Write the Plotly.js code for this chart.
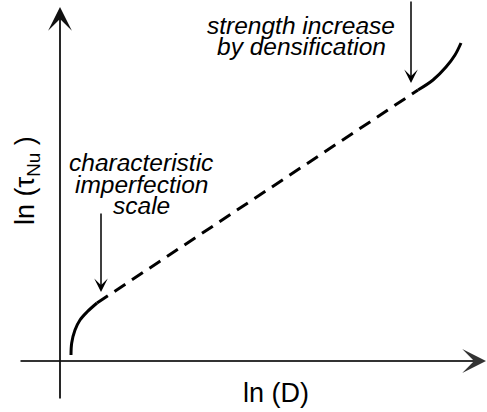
<!DOCTYPE html>
<html>
<head>
<meta charset="utf-8">
<script src="https://cdn.plot.ly/plotly-3.0.1.min.js"></script>
<style>html,body{margin:0;padding:0;background:#fff;}#chart{width:487px;height:412px;}</style>
</head>
<body>
<div id="chart"></div>
<script>
// Schematic values in arbitrary ln units (origin at the axis crossing)
var lowX = [1.1, 1.17, 1.5, 2.0, 2.7, 3.7];
var lowY = [0.6, 1.8, 3.1, 4.1, 4.9, 5.8];
var midX = [3.7, 35.8];
var midY = [5.8, 27.1];
var highX = [35.8, 37.3, 38.6, 39.5, 40.1];
var highY = [27.1, 28.1, 29.4, 30.6, 31.8];

var xAxisSpan = [-4.1, 42.6];
var yAxisSpan = [-3.9, 35.4];

var upperLabel = ["strength increase", "by densification"];
var lowerLabel = ["characteristic", "imperfection", "scale"];
var xLabel = "ln (D)";
var yLabel = "ln (τ<sub>Nu</sub> )";

var FONT = "Liberation Sans, Arial, Helvetica, sans-serif";

var traces = [
  {x: lowX, y: lowY, mode: "lines", line: {color: "#000", width: 3, shape: "spline"}, hoverinfo: "skip"},
  {x: midX, y: midY, mode: "lines", line: {color: "#000", width: 3, dash: "13px,8px"}, hoverinfo: "skip"},
  {x: highX, y: highY, mode: "lines", line: {color: "#000", width: 3, shape: "spline"}, hoverinfo: "skip"}
];

var ann = [];
// axes with arrows
ann.push({x: xAxisSpan[1], y: 0, ax: xAxisSpan[0], ay: 0, axref: "x", ayref: "y", xref: "x", yref: "y",
  text: "", showarrow: true, arrowhead: 3, arrowsize: 2.2, arrowwidth: 1.8, arrowcolor: "#333", standoff: 0});
ann.push({x: 0, y: yAxisSpan[1], ax: 0, ay: yAxisSpan[0], axref: "x", ayref: "y", xref: "x", yref: "y",
  text: "", showarrow: true, arrowhead: 3, arrowsize: 2.2, arrowwidth: 1.8, arrowcolor: "#111", standoff: 0});
// pointer arrows
ann.push({x: 4.1, y: 6.9, ax: 4.1, ay: 14.9, axref: "x", ayref: "y", xref: "x", yref: "y",
  text: "", showarrow: true, arrowhead: 3, arrowsize: 1.5, arrowwidth: 1.5, arrowcolor: "#000", standoff: 0});
ann.push({x: 35.1, y: 27.8, ax: 35.1, ay: 36.1, axref: "x", ayref: "y", xref: "x", yref: "y",
  text: "", showarrow: true, arrowhead: 3, arrowsize: 1.5, arrowwidth: 1.5, arrowcolor: "#000", standoff: 0});

var upY = [33.6, 31.5];
upperLabel.forEach(function (t, i) {
  ann.push({x: 24.1, y: upY[i], xref: "x", yref: "y", text: "<i>" + t + "</i>", showarrow: false,
    xanchor: "center", yanchor: "middle", font: {family: FONT, size: 24.5, color: "#000"}});
});
var loY = [19.9, 17.7, 15.6];
lowerLabel.forEach(function (t, i) {
  ann.push({x: 8.1, y: loY[i], xref: "x", yref: "y", text: "<i>" + t + "</i>", showarrow: false,
    xanchor: "center", yanchor: "middle", font: {family: FONT, size: 24.5, color: "#000"}});
});
ann.push({x: 21.6, y: -3.2, xref: "x", yref: "y", text: xLabel, showarrow: false,
  xanchor: "center", yanchor: "middle", font: {family: FONT, size: 27, color: "#000"}});
ann.push({x: -3.3, y: 18.0, xref: "x", yref: "y", text: yLabel, showarrow: false, textangle: -90,
  xanchor: "center", yanchor: "middle", font: {family: FONT, size: 27, color: "#000"}});

var layout = {
  width: 487, height: 412,
  margin: {l: 0, r: 0, t: 0, b: 0},
  paper_bgcolor: "#fff", plot_bgcolor: "#fff",
  showlegend: false,
  xaxis: {range: [-6, 42.7], visible: false, fixedrange: true},
  yaxis: {range: [-5.1, 36.1], visible: false, fixedrange: true},
  annotations: ann
};

Plotly.newPlot("chart", traces, layout, {staticPlot: true, displayModeBar: false});
</script>
</body>
</html>
